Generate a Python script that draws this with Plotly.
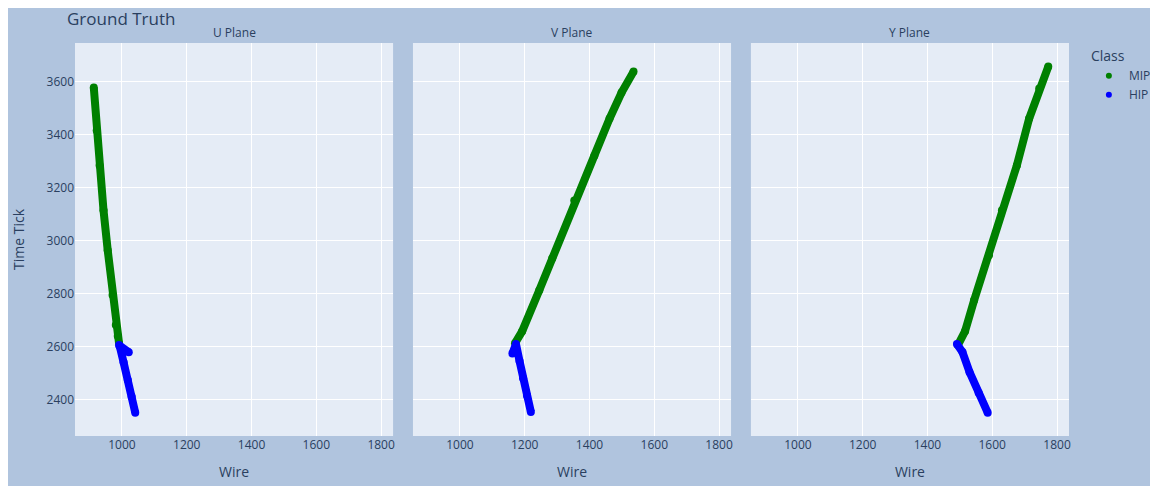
import plotly.graph_objects as go
from plotly.subplots import make_subplots

planes = ["U Plane", "V Plane", "Y Plane"]
classes = ["MIP", "HIP"]
class_colors = ["green", "blue"]

u_mip_wire = [913, 922, 931, 943, 956, 971, 981, 987, 991]
u_mip_tick = [3577, 3415, 3283, 3114, 2963, 2794, 2681, 2639, 2612]
u_hip_wire = [1021, 991, 993, 1005, 1018, 1030, 1041]
u_hip_tick = [2578, 2605, 2601, 2540, 2473, 2410, 2350]

v_mip_wire = [1170, 1192, 1245, 1285, 1353, 1415, 1462, 1499, 1536]
v_mip_tick = [2612, 2657, 2812, 2933, 3151, 3320, 3460, 3558, 3637]
v_hip_wire = [1162, 1173, 1184, 1195, 1207, 1219]
v_hip_tick = [2573, 2609, 2545, 2480, 2415, 2353]

y_mip_wire = [1494, 1516, 1544, 1590, 1630, 1676, 1714, 1745, 1773]
y_mip_tick = [2605, 2657, 2774, 2944, 3114, 3283, 3460, 3573, 3656]
y_hip_wire = [1491, 1508, 1530, 1558, 1586]
y_hip_tick = [2609, 2579, 2503, 2425, 2350]

data = [
    [(u_mip_wire, u_mip_tick), (u_hip_wire, u_hip_tick)],
    [(v_mip_wire, v_mip_tick), (v_hip_wire, v_hip_tick)],
    [(y_mip_wire, y_mip_tick), (y_hip_wire, y_hip_tick)],
]

fig = make_subplots(rows=1, cols=3, shared_yaxes=True,
                    horizontal_spacing=0.02, subplot_titles=planes)

for col, plane_data in enumerate(data, start=1):
    for k, (cls, color) in enumerate(zip(classes, class_colors)):
        wx, ty = plane_data[k]
        fig.add_trace(go.Scatter(x=wx, y=ty, mode="lines",
                                 line=dict(color=color, width=8),
                                 showlegend=False, hoverinfo="skip"),
                      row=1, col=col)
        fig.add_trace(go.Scatter(x=wx, y=ty, mode="markers", name=cls,
                                 marker=dict(color=color, size=8),
                                 showlegend=False),
                      row=1, col=col)

# legend entries (small dots, as in the reference)
for cls, color in zip(classes, class_colors):
    fig.add_trace(go.Scatter(x=[None], y=[None], mode="markers", name=cls,
                             marker=dict(color=color, size=6),
                             showlegend=True), row=1, col=1)

for col in range(1, 4):
    fig.update_xaxes(range=[855, 1837], title_text="Wire",
                     title_font=dict(size=14), tickfont=dict(size=12),
                     row=1, col=col)
fig.update_yaxes(range=[2262, 3745], tickfont=dict(size=12))
fig.update_yaxes(title_text="Time Tick", title_font=dict(size=14),
                 title_standoff=18, row=1, col=1)

for ann in fig.layout.annotations:
    ann.font = dict(size=12, color="#2a3f5f")

W, H = 1150, 478
fig.update_layout(
    width=W, height=H,
    margin=dict(l=67, r=89, t=35, b=50, autoexpand=False),
    paper_bgcolor="lightsteelblue",
    title=dict(text="Ground Truth", x=59 / W, xanchor="left",
               y=1 - 11 / H, yanchor="middle", font=dict(size=17)),
    legend=dict(title=dict(text="Class", font=dict(size=14)),
                font=dict(size=12), tracegroupgap=0),
    font=dict(family="Open Sans"),
)

fig.write_html("out.html")
